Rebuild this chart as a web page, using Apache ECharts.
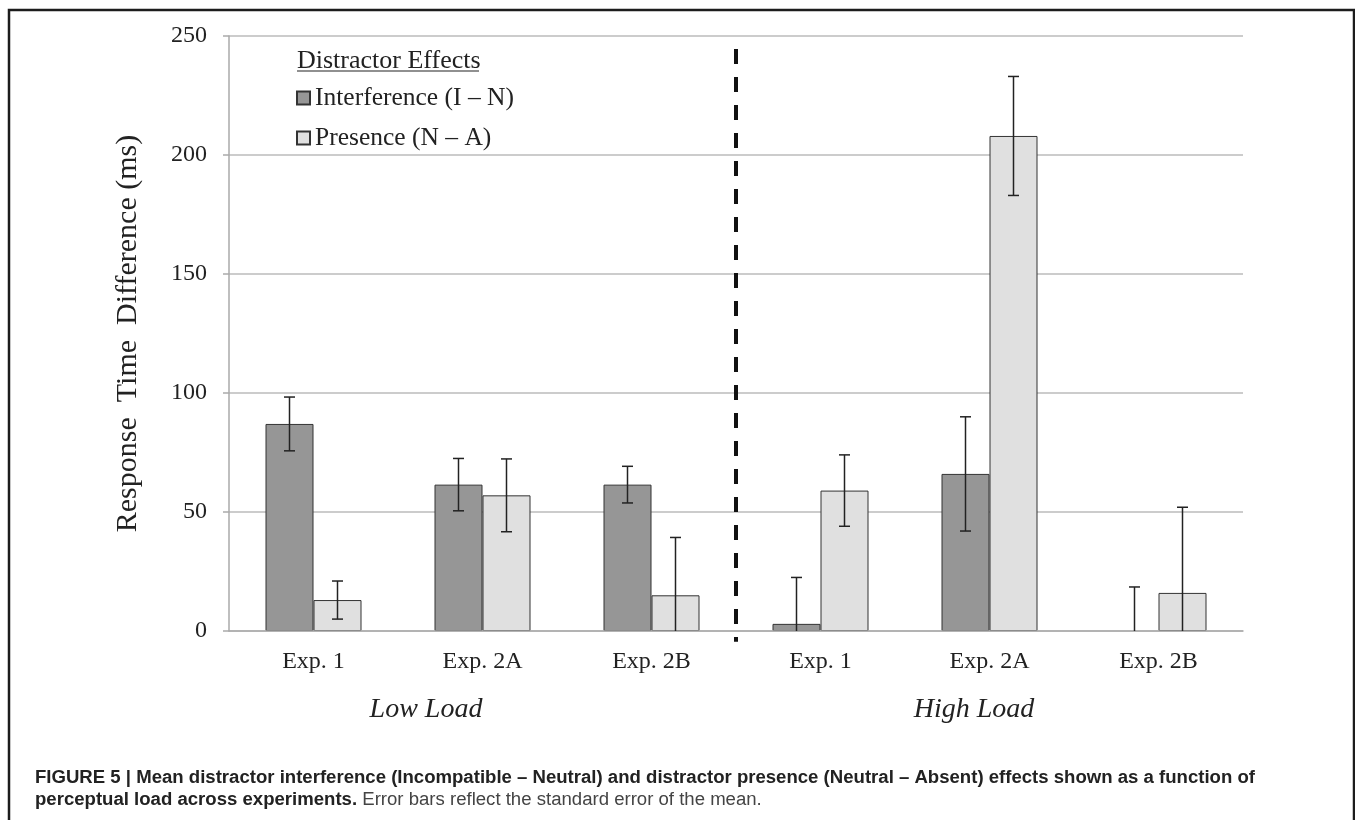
<!DOCTYPE html>
<html>
<head>
<meta charset="utf-8">
<title>Distractor effects by perceptual load</title>
<script src="https://cdn.jsdelivr.net/npm/echarts@6/dist/echarts.min.js"></script>
<style>
  html, body { margin: 0; padding: 0; background: #ffffff; }
  #chart { width: 1355px; height: 820px; }
</style>
</head>
<body>
<div id="chart"></div>
<script>
// Experiments, grouped by load condition (first three: low load, last three: high load)
const categories = ['Exp. 1', 'Exp. 2A', 'Exp. 2B', 'Exp. 1', 'Exp. 2A', 'Exp. 2B'];

// Mean effects in ms
const interferenceMean = [87, 61.5, 61.5, 3, 66, -2];
const presenceMean     = [13, 57, 15, 59, 208, 16];

// Standard error of the mean, ms
const interferenceSE = [11.3, 11, 7.7, 19.5, 24, 20.5];
const presenceSE     = [8, 15.3, 24.3, 15, 25, 36];

// Y axis ticks
const yTicks = { min: 0, max: 250, interval: 50 };

const SERIF = "'Liberation Serif', 'DejaVu Serif', 'Times New Roman', serif";
const SANS = "'Liberation Sans', Arial, sans-serif";
const BAR_WIDTH = 48;

const captionLine1 = 'FIGURE 5 | Mean distractor interference (Incompatible \u2013 Neutral) and distractor presence (Neutral \u2013 Absent) effects shown as a function of';
const captionBold2 = 'perceptual load across experiments.';
const captionRest2 = ' Error bars reflect the standard error of the mean.';

// Error bar rows: [category index, mean, se, side (-1 left bar, +1 right bar)]
const errorRows = [];
categories.forEach((c, i) => {
  errorRows.push([i, interferenceMean[i], interferenceSE[i], -1]);
  errorRows.push([i, presenceMean[i], presenceSE[i], 1]);
});

// Caption is set in a condensed style: squeeze regular sans text to the caption width
const CAPTION_SIZE = 18;
const measureCtx = document.createElement('canvas').getContext('2d');
measureCtx.font = 'bold ' + CAPTION_SIZE + 'px ' + SANS;
const captionWidth = 1220;
const captionScale = captionWidth / measureCtx.measureText(captionLine1).width;

const chart = echarts.init(document.getElementById('chart'), null, { renderer: 'canvas' });

function renderErrorBar(params, api) {
  const cat = api.value(0);
  const mean = api.value(1);
  const se = api.value(2);
  const side = api.value(3);
  const x = api.coord([cat, 0])[0] + side * BAR_WIDTH / 2;
  const upper = mean + se;
  const lower = mean - se;
  const yTop = api.coord([cat, upper])[1];
  const yBot = api.coord([cat, Math.max(lower, yTicks.min)])[1];
  const cap = 5.5;
  const style = { stroke: '#222', lineWidth: 1.5 };
  const children = [
    { type: 'line', shape: { x1: x, y1: yTop, x2: x, y2: yBot }, style },
    { type: 'line', shape: { x1: x - cap, y1: yTop, x2: x + cap, y2: yTop }, style }
  ];
  if (lower >= yTicks.min) {
    children.push({ type: 'line', shape: { x1: x - cap, y1: yBot, x2: x + cap, y2: yBot }, style });
  }
  return { type: 'group', children };
}

const option = {
  backgroundColor: '#ffffff',
  animation: false,
  grid: { left: 229, right: 112, top: 36, bottom: 189, containLabel: false },
  legend: {
    data: ['Interference (I \u2013 N)', 'Presence (N \u2013 A)'],
    orient: 'vertical',
    left: 296,
    top: 85,
    padding: 0,
    itemGap: 14,
    itemWidth: 13,
    itemHeight: 13,
    icon: 'rect',
    textStyle: { fontFamily: SERIF, fontSize: 25.5, color: '#222', lineHeight: 25 }
  },
  xAxis: {
    type: 'category',
    data: categories,
    z: 5,
    axisLine: { lineStyle: { color: '#aaaaaa', width: 1.5 } },
    axisTick: { show: false },
    axisLabel: { fontFamily: SERIF, fontSize: 24, color: '#222', margin: 19, interval: 0 },
    splitLine: { show: false }
  },
  yAxis: {
    type: 'value',
    min: yTicks.min,
    max: yTicks.max,
    interval: yTicks.interval,
    name: 'Response  Time  Difference (ms)',
    nameLocation: 'middle',
    nameGap: 86,
    nameTextStyle: { fontFamily: SERIF, fontSize: 30, color: '#222' },
    axisLine: { show: true, lineStyle: { color: '#aaaaaa', width: 1.5 } },
    axisTick: { show: true, length: 6, lineStyle: { color: '#aaaaaa', width: 1.5 } },
    axisLabel: { fontFamily: SERIF, fontSize: 24, color: '#222', margin: 22 },
    splitLine: { lineStyle: { color: '#bbbbbb', width: 1.5 } }
  },
  series: [
    {
      name: 'Interference (I \u2013 N)',
      type: 'bar',
      data: interferenceMean,
      barWidth: BAR_WIDTH,
      barGap: '0%',
      itemStyle: { color: '#969696', borderColor: '#333333', borderWidth: 1 }
    },
    {
      name: 'Presence (N \u2013 A)',
      type: 'bar',
      data: presenceMean,
      barWidth: BAR_WIDTH,
      barGap: '0%',
      itemStyle: { color: '#e0e0e0', borderColor: '#333333', borderWidth: 1 }
    },
    {
      name: 'SEM',
      type: 'custom',
      renderItem: renderErrorBar,
      data: errorRows,
      encode: { x: 0, y: 1 },
      z: 10,
      silent: true
    }
  ],
  graphic: [
    // figure frame
    {
      type: 'rect',
      shape: { x: 9, y: 10, width: 1345, height: 840 },
      style: { fill: null, stroke: '#1c1c1c', lineWidth: 2.5 },
      silent: true
    },
    // legend heading
    {
      type: 'text',
      left: 297,
      top: 48,
      style: { text: 'Distractor Effects', font: '26px ' + SERIF, fill: '#222' }
    },
    {
      type: 'line',
      shape: { x1: 297, y1: 71, x2: 479, y2: 71 },
      style: { stroke: '#222', lineWidth: 1.2 }
    },
    // load condition labels
    {
      type: 'text',
      x: 426,
      y: 710,
      style: { text: 'Low Load', font: 'italic 28px ' + SERIF, fill: '#222', align: 'center', verticalAlign: 'middle' }
    },
    {
      type: 'text',
      x: 974,
      y: 710,
      style: { text: 'High Load', font: 'italic 28px ' + SERIF, fill: '#222', align: 'center', verticalAlign: 'middle' }
    },
    // caption
    {
      type: 'text',
      x: 35,
      y: 778,
      scaleX: captionScale,
      style: {
        text: captionLine1,
        font: 'bold ' + CAPTION_SIZE + 'px ' + SANS,
        fill: '#222',
        verticalAlign: 'middle'
      }
    },
    {
      type: 'text',
      x: 35,
      y: 800,
      scaleX: captionScale,
      style: {
        text: '{b|' + captionBold2 + '}{r|' + captionRest2 + '}',
        verticalAlign: 'middle',
        rich: {
          b: { fontFamily: SANS, fontWeight: 'bold', fontSize: CAPTION_SIZE, fill: '#222' },
          r: { fontFamily: SANS, fontWeight: 'normal', fontSize: CAPTION_SIZE, fill: '#444' }
        }
      }
    }
  ]
};

chart.setOption(option);

// Dashed divider between the low-load and high-load groups, placed on the category boundary
const xLeft = chart.convertToPixel({ xAxisIndex: 0 }, 2);
const xRight = chart.convertToPixel({ xAxisIndex: 0 }, 3);
const xDiv = (xLeft + xRight) / 2;
const yDivTop = chart.convertToPixel({ yAxisIndex: 0 }, 244.5);
const yDivBot = chart.convertToPixel({ yAxisIndex: 0 }, -4.5);
chart.setOption({
  graphic: option.graphic.concat([{
    type: 'line',
    shape: { x1: xDiv, y1: yDivTop, x2: xDiv, y2: yDivBot },
    style: { stroke: '#111', lineWidth: 4, lineDash: [15, 13] },
    z: 20
  }])
});
</script>
</body>
</html>
